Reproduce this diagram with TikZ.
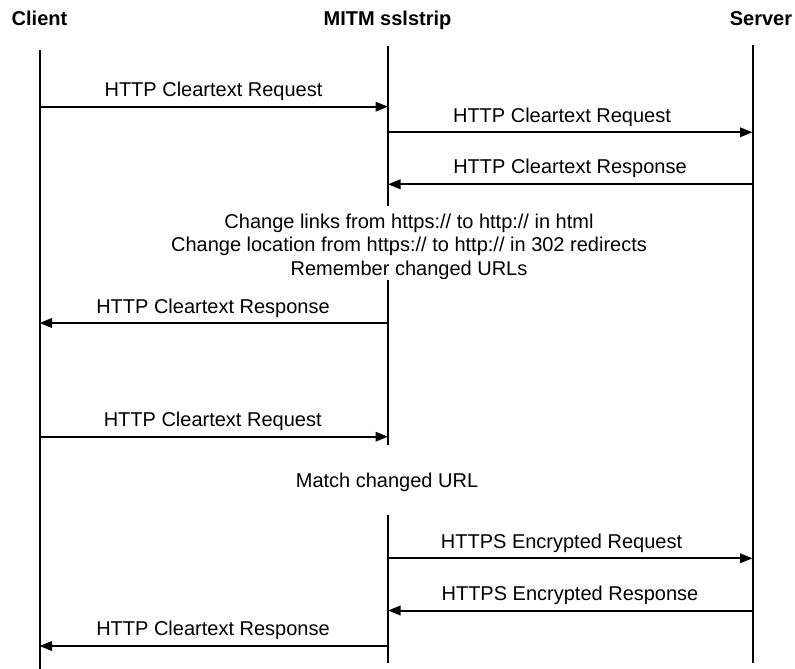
\documentclass[tikz,border=0pt]{standalone}
\usepackage{fontspec}
\setmainfont{Liberation Sans}
\usetikzlibrary{arrows.meta}
\begin{document}
\begin{tikzpicture}[x=1pt,y=-1pt,
  lifeline/.style={line width=2pt},
  msg/.style={line width=2pt,-{Triangle[length=12.5pt,width=9.5pt]}},
  head/.style={inner sep=0pt,anchor=base,font=\fontsize{20}{24}\selectfont\bfseries},
  lbl/.style={inner sep=0pt,anchor=base,font=\fontsize{20}{24}\selectfont},
]
\useasboundingbox[fill=white] (0,0) rectangle (795,669);
% headers
\node[head] (hc) at (39.5,26) {Client};
\node[head] (hm) at (387.5,26) {MITM sslstrip};
\node[head] (hs) at (761,26) {Server};
% lifeline coordinates
\coordinate (ct) at (39.5,50);
\coordinate (cb) at (39.5,669);
\coordinate (mt) at (388,46);
\coordinate (mg1) at (388,206);
\coordinate (mg2) at (388,280);
\coordinate (mg3) at (388,445);
\coordinate (mg4) at (388,515);
\coordinate (mb) at (388,662.7);
\coordinate (st) at (752.5,45);
\coordinate (sb) at (752.5,662.7);
\draw[lifeline] (ct) -- (cb);
\draw[lifeline] (mt) -- (mg1);
\draw[lifeline] (mg2) -- (mg3);
\draw[lifeline] (mg4) -- (mb);
\draw[lifeline] (st) -- (sb);
% message end points
\foreach \n/\y in {1/106.7,2/132.3,3/184.3,5/323,6/436.7,8/558.3,9/610.5,10/646}{
  \coordinate (c\n) at (39.5,\y);
  \coordinate (m\n) at (388,\y);
  \coordinate (s\n) at (752.5,\y);
}
% messages
\draw[msg] (c1) -- (m1);
\node[lbl] (l1) at (213.5,96.5) {HTTP Cleartext Request};
\draw[msg] (m2) -- (s2);
\node[lbl] (l2) at (562,122) {HTTP Cleartext Request};
\draw[msg] (s3) -- (m3);
\node[lbl] (l3) at (570,173.5) {HTTP Cleartext Response};
\node[lbl] (n1) at (409,228) {Change links from https:// to http:// in html};
\node[lbl] (n2) at (409,251.5) {Change location from https:// to http:// in 302 redirects};
\node[lbl] (n3) at (409,275) {Remember changed URLs};
\draw[msg] (m5) -- (c5);
\node[lbl] (l5) at (213,313) {HTTP Cleartext Response};
\draw[msg] (c6) -- (m6);
\node[lbl] (l6) at (212.7,426.5) {HTTP Cleartext Request};
\node[lbl] (n4) at (387,487) {Match changed URL};
\draw[msg] (m8) -- (s8);
\node[lbl] (l8) at (561.5,548) {HTTPS Encrypted Request};
\draw[msg] (s9) -- (m9);
\node[lbl] (l9) at (570,600) {HTTPS Encrypted Response};
\draw[msg] (m10) -- (c10);
\node[lbl] (l10) at (213,635.5) {HTTP Cleartext Response};
\end{tikzpicture}
\end{document}
